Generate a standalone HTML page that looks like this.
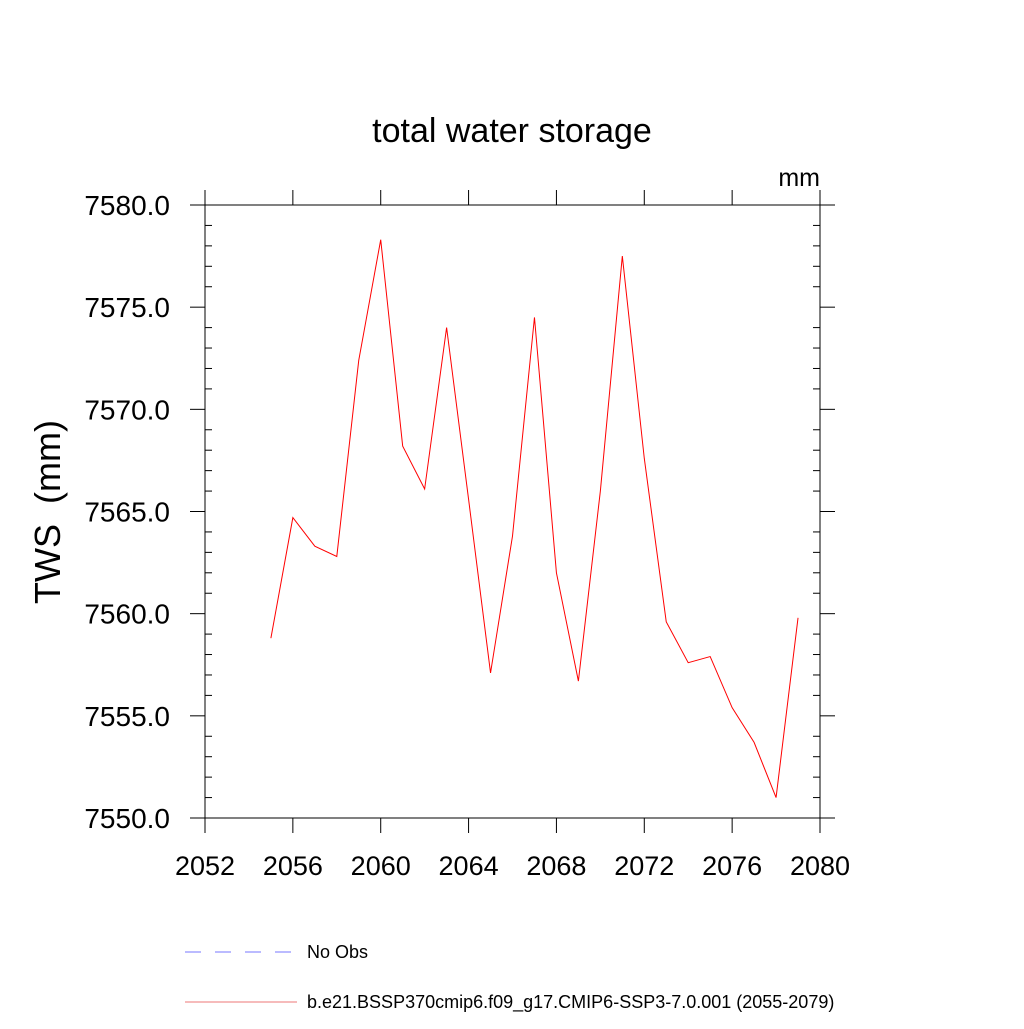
<!DOCTYPE html>
<html><head><meta charset="utf-8"><style>
body{margin:0;background:#fff;}
svg text{font-family:"Liberation Sans",sans-serif;fill:#000;white-space:pre;}
</style></head><body>
<svg id="chart" width="1024" height="1024" xmlns="http://www.w3.org/2000/svg">
<text x="512" y="142" font-size="34" text-anchor="middle">total water storage</text>
<text x="820" y="186" font-size="25" text-anchor="end">mm</text>
<text transform="translate(60,512) rotate(-90)" font-size="36" text-anchor="middle" xml:space="preserve">TWS  (mm)</text>
<rect x="205" y="205" width="615" height="613" fill="none" stroke="#000" stroke-width="1"/>
<g id="axes"></g>
<polyline id="series" fill="none" stroke="#ff0000" stroke-width="1"/>
<g>
<line x1="185" y1="952" x2="297" y2="952" stroke="#7777ff" stroke-width="1" stroke-dasharray="16,14"/>
<text x="307" y="958" font-size="18">No Obs</text>
<line x1="185" y1="1002" x2="297" y2="1002" stroke="#ee7777" stroke-width="1"/>
<text x="307" y="1008" font-size="18">b.e21.BSSP370cmip6.f09_g17.CMIP6-SSP3-7.0.001 (2055-2079)</text>
</g>
</svg>
<script>
const years=[2055,2056,2057,2058,2059,2060,2061,2062,2063,2064,2065,2066,2067,2068,2069,2070,2071,2072,2073,2074,2075,2076,2077,2078,2079];
const tws=[7558.8,7564.7,7563.3,7562.8,7572.4,7578.3,7568.2,7566.1,7574.0,7565.6,7557.1,7563.8,7574.5,7562.0,7556.7,7566.0,7577.5,7567.6,7559.6,7557.6,7557.9,7555.4,7553.7,7551.0,7559.8];
const xTicks=[2052,2056,2060,2064,2068,2072,2076,2080];
const yTicks=[7550,7555,7560,7565,7570,7575,7580];
const yTickLabels=["7550.0","7555.0","7560.0","7565.0","7570.0","7575.0","7580.0"];
const X0=205,X1=820,Y0=818,Y1=205,xmin=2052,xmax=2080,ymin=7550,ymax=7580;
function xs(v){return X0+(v-xmin)/(xmax-xmin)*(X1-X0);}
function ys(v){return Y0-(v-ymin)/(ymax-ymin)*(Y0-Y1);}
const NS="http://www.w3.org/2000/svg";
const ax=document.getElementById('axes');
function ln(x1,y1,x2,y2,name){const l=document.createElementNS(NS,'line');
l.setAttribute('x1',x1);l.setAttribute('y1',y1);l.setAttribute('x2',x2);l.setAttribute('y2',y2);
l.setAttribute('stroke','#000');l.setAttribute('stroke-width','1');


ax.appendChild(l);}
function tx(x,y,s,anchor,size,name){const t=document.createElementNS(NS,'text');
t.setAttribute('x',x);t.setAttribute('y',y);t.setAttribute('font-size',size);t.setAttribute('text-anchor',anchor);t.textContent=s;


ax.appendChild(t);}
xTicks.forEach(v=>{const x=xs(v);ln(x,Y0,x,Y0+15,'x-tick');ln(x,Y1,x,Y1-15,'x-tick-top');tx(x,Y0+57,String(v),'middle','27','x-tick-label');});
for(let v=ymin;v<=ymax;v++){const y=ys(v);
 if(v%5===0){ln(X0-15,y,X0,y,'y-tick');ln(X1,y,X1+15,y,'y-tick-right');}
 else{ln(X0,y,X0+7,y,'y-minor-tick');ln(X1-7,y,X1,y,'y-minor-tick-right');}}
yTicks.forEach((v,i)=>tx(X0-35,ys(v)+10,yTickLabels[i],'end','28','y-tick-label'));
document.getElementById('series').setAttribute('points',years.map((y,i)=>xs(y)+','+ys(tws[i])).join(' '));
</script>
</body></html>
